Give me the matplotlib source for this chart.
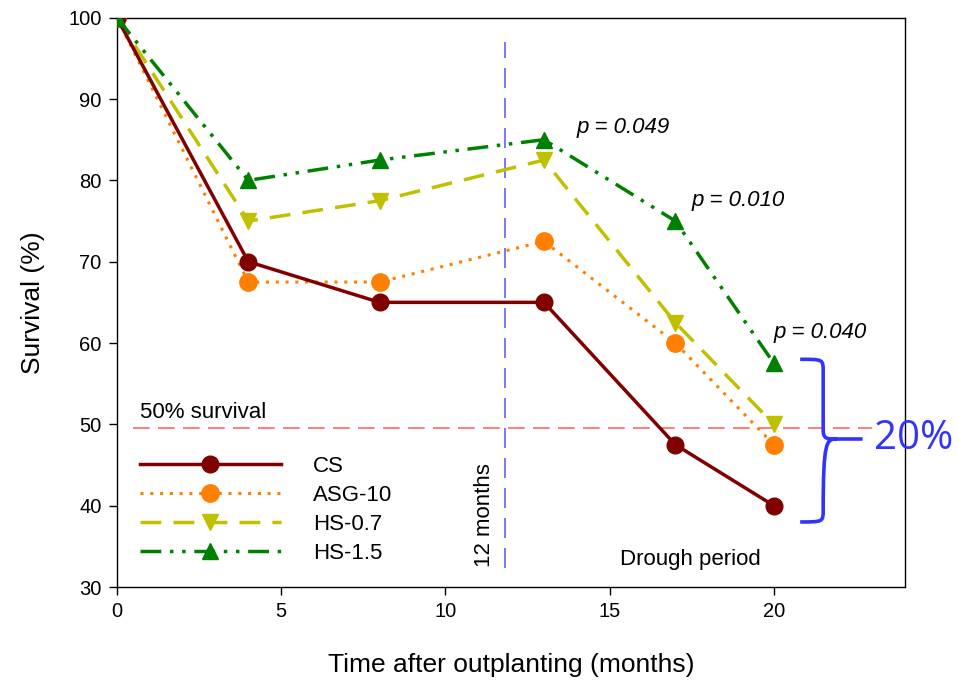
import matplotlib
matplotlib.use("Agg")
import matplotlib.pyplot as plt
from matplotlib.path import Path
from matplotlib.patches import PathPatch

plt.rcParams['font.family'] = ['Liberation Sans', 'DejaVu Sans']

months = [0, 4, 8, 13, 17, 20]
cs = [100, 70, 65, 65, 47.5, 40]
asg10 = [100, 67.5, 67.5, 72.5, 60, 47.5]
hs07 = [100, 75, 77.5, 82.5, 62.5, 50]
hs15 = [100, 80, 82.5, 85, 75, 57.5]
series_names = ["CS", "ASG-10", "HS-0.7", "HS-1.5"]
p_labels = ["p = 0.049", "p = 0.010", "p = 0.040"]

fig = plt.figure(figsize=(9.58, 6.81), dpi=100)
ax = fig.add_axes([0.122, 0.138, 0.823, 0.836])

ax.plot(months, cs, color="#800000", lw=2.5, ls="-", marker="o", ms=12, label=series_names[0], zorder=5)
ax.plot(months, asg10, color="#ff8000", lw=2.2, ls=(0, (1, 2.2)), marker="o", ms=12.5, label=series_names[1], zorder=4)
ax.plot(months, hs07, color="#c0c000", lw=2.5, ls=(0, (6, 3.5)), marker="v", ms=12, label=series_names[2], zorder=4)
ax.plot(months, hs15, color="#008000", lw=2.5, ls=(0, (6, 2.5, 1, 2.5, 1, 2.5)), marker="^", ms=12, label=series_names[3], zorder=6)

# reference lines
ax.plot([0.5, 23.0], [49.6, 49.6], color="#ff6666", lw=1.2, ls=(0, (10, 5)), zorder=2, clip_on=False)
ax.plot([11.8, 11.8], [32.3, 97], color="#6060ff", lw=1.2, ls=(0, (12, 6)), zorder=2)

ax.text(0.7, 51.5, "50% survival", fontsize=16, ha="left", va="center")
ax.text(11.2, 38.9, "12 months", fontsize=16, rotation=90, ha="center", va="center")
ax.text(17.45, 33.4, "Drough period", fontsize=16, ha="center", va="center")
ax.text(14.0, 86.5, p_labels[0], fontsize=16, style="italic", ha="left", va="center")
ax.text(17.5, 77.5, p_labels[1], fontsize=16, style="italic", ha="left", va="center")
ax.text(20.0, 61.3, p_labels[2], fontsize=16, style="italic", ha="left", va="center")

# curly brace
bc = "#3333ff"
x0, x1, xt = 20.8, 21.5, 22.7
ytop, ymid, ybot = 58.0, 48.2, 38.0
verts = [
    (x0, ytop), (x1, ytop), (x1, ytop), (x1, ytop - 1.5),
    (x1, ymid + 1.2),
    (x1, ymid), (x1 + 0.1, ymid), (x1 + 0.4, ymid),
    (xt, ymid),
    (x1 + 0.4, ymid), (x1 + 0.1, ymid), (x1, ymid - 0.3),
    (x1, ybot + 1.5),
    (x1, ybot), (x1, ybot), (x0, ybot),
]
codes = [Path.MOVETO, Path.CURVE4, Path.CURVE4, Path.CURVE4,
         Path.LINETO,
         Path.CURVE4, Path.CURVE4, Path.CURVE4,
         Path.LINETO,
         Path.MOVETO, Path.CURVE4, Path.CURVE4,
         Path.LINETO,
         Path.CURVE4, Path.CURVE4, Path.CURVE4]
ax.add_patch(PathPatch(Path(verts, codes), fill=False, edgecolor=bc, lw=2.6, clip_on=False, zorder=7))
ax.text(23.05, 48.2, "20%", fontsize=29, color=bc, family=["Open Sans", "DejaVu Sans"],
        ha="left", va="center", clip_on=False, zorder=8)

ax.set_xlim(0, 24)
ax.set_ylim(30, 100)
ax.set_xticks([0, 5, 10, 15, 20])
ax.set_yticks(range(30, 101, 10))
ax.tick_params(direction="out", length=6, width=1, labelsize=14.5, colors="black", pad=5)
for s in ax.spines.values():
    s.set_linewidth(1)
ax.set_xlabel("Time after outplanting (months)", fontsize=19, labelpad=23)
ax.set_ylabel("Survival (%)", fontsize=19, labelpad=17)

leg = ax.legend(loc="upper left", bbox_to_anchor=(0.029, 0.231), frameon=False, fontsize=16,
                handlelength=6.35, handletextpad=1.45, labelspacing=0.37,
                borderpad=0, borderaxespad=0)

fig.savefig("out.png", dpi=100)
